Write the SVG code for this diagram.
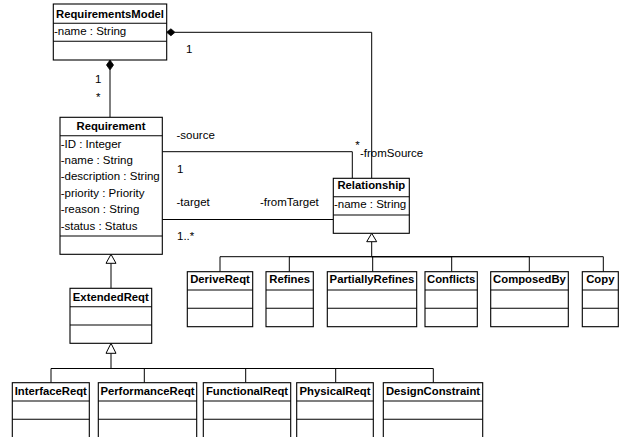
<svg xmlns="http://www.w3.org/2000/svg" width="627" height="437" viewBox="0 0 627 437">
<style>
.box{fill:#fff;stroke:#000;stroke-width:1.1}
.sep{stroke:#000;stroke-width:1.1}
.hd{font-family:"Liberation Sans",Arial,sans-serif;font-weight:bold;font-size:11.3px;text-anchor:middle;fill:#000}
.at{font-family:"Liberation Sans",Arial,sans-serif;font-size:11.5px;fill:#000}
.lb{font-family:"Liberation Sans",Arial,sans-serif;font-size:11.5px;fill:#000}
.ln{fill:none;stroke:#000;stroke-width:1}
.gen{fill:#fff;stroke:#000;stroke-width:1}
.dia{fill:#000;stroke:#000;stroke-width:0.8}
</style>
<rect width="627" height="437" fill="#fff"/>
<g id="connectors">
  <path class="ln" d="M175,32.3 H371.7 V178.3"/>
  <path class="ln" d="M110,70 V117.3"/>
  <path class="ln" d="M162.3,151.7 H352.3 V178.3"/>
  <path class="ln" d="M162.3,219.5 H333.3"/>
  <polygon class="dia" points="166.7,32.3 170.9,28.8 175,32.3 170.9,35.8"/>
  <polygon class="dia" points="110,60 113.5,65 110,70 106.5,65"/>
  <path class="ln" d="M111,263.3 V288.3"/>
  <polygon class="gen" points="111,254.3 116,263.3 106,263.3"/>
  <path class="ln" stroke-width="1.6" d="M371.7,241.7 V256.7"/>
  <path class="ln" d="M371.7,256.7 H220 V271.7"/>
  <path class="ln" d="M371.7,256.7 H289.3 V271.7"/>
  <path class="ln" d="M371.7,256.7 H372.7 V271.7"/>
  <path class="ln" d="M371.7,256.7 H451.7 V271.7"/>
  <path class="ln" d="M371.7,256.7 H529.3 V271.7"/>
  <path class="ln" d="M371.7,256.7 H603.3 V271.7"/>
  <polygon class="gen" points="371.7,233.3 376.7,241.7 366.7,241.7"/>
  <path class="ln" stroke-width="1.6" d="M111,353.3 V368.5"/>
  <path class="ln" d="M111,368.5 H51 V382.7"/>
  <path class="ln" d="M111,368.5 H144.3 V382.7"/>
  <path class="ln" d="M111,368.5 H245.7 V382.7"/>
  <path class="ln" d="M111,368.5 H335.7 V382.7"/>
  <path class="ln" d="M111,368.5 H433.3 V382.7"/>
  <polygon class="gen" points="111,343.3 116,353.3 106,353.3"/>
  <text class="lb" x="186" y="53">1</text>
  <text class="lb" x="95" y="82.5">1</text>
  <text class="lb" x="96" y="101">*</text>
  <text class="lb" x="176.5" y="139">-source</text>
  <text class="lb" x="177" y="173">1</text>
  <text class="lb" x="176.5" y="205.5">-target</text>
  <text class="lb" x="260" y="205.5">-fromTarget</text>
  <text class="lb" x="177" y="240">1..*</text>
  <text class="lb" x="355.3" y="149">*</text>
  <text class="lb" x="360" y="156.7">-fromSource</text>
</g>
<g id="RequirementsModel">
  <rect class="box" x="53.3" y="4" width="113.4" height="56"/>
  <line class="sep" x1="53.3" y1="23.3" x2="166.7" y2="23.3"/>
  <line class="sep" x1="53.3" y1="41.3" x2="166.7" y2="41.3"/>
  <text class="hd" x="110" y="17.5">RequirementsModel</text>
  <text class="at" x="54" y="35">-name : String</text>
</g>
<g id="Requirement">
  <rect class="box" x="60" y="117.3" width="102.3" height="137"/>
  <line class="sep" x1="60" y1="135.7" x2="162.3" y2="135.7"/>
  <line class="sep" x1="60" y1="236" x2="162.3" y2="236"/>
  <text class="hd" x="111" y="130">Requirement</text>
  <text class="at" x="60.7" y="147.5">-ID : Integer</text>
  <text class="at" x="60.7" y="163.9">-name : String</text>
  <text class="at" x="60.7" y="180.3">-description : String</text>
  <text class="at" x="60.7" y="196.7">-priority : Priority</text>
  <text class="at" x="60.7" y="213.1">-reason : String</text>
  <text class="at" x="60.7" y="229.5">-status : Status</text>
</g>
<g id="Relationship">
  <rect class="box" x="333.3" y="178.3" width="76" height="55"/>
  <line class="sep" x1="333.3" y1="196.7" x2="409.3" y2="196.7"/>
  <line class="sep" x1="333.3" y1="215" x2="409.3" y2="215"/>
  <text class="hd" x="371.3" y="189.3">Relationship</text>
  <text class="at" x="334" y="207.5">-name : String</text>
</g>
<g id="ExtendedReqt">
  <rect class="box" x="70" y="288.3" width="81.7" height="55"/>
  <line class="sep" x1="70" y1="306.7" x2="151.7" y2="306.7"/>
  <line class="sep" x1="70" y1="325" x2="151.7" y2="325"/>
  <text class="hd" x="110.8" y="301">ExtendedReqt</text>
</g>
<g id="DeriveReqt">
  <rect class="box" x="187.3" y="271.7" width="65.4" height="55"/>
  <line class="sep" x1="187.3" y1="290" x2="252.7" y2="290"/>
  <line class="sep" x1="187.3" y1="308.3" x2="252.7" y2="308.3"/>
  <text class="hd" x="220" y="283.3">DeriveReqt</text>
</g>
<g id="Refines">
  <rect class="box" x="266" y="271.7" width="47.3" height="55"/>
  <line class="sep" x1="266" y1="290" x2="313.3" y2="290"/>
  <line class="sep" x1="266" y1="308.3" x2="313.3" y2="308.3"/>
  <text class="hd" x="289.7" y="283.3">Refines</text>
</g>
<g id="PartiallyRefines">
  <rect class="box" x="327.3" y="271.7" width="89.4" height="55"/>
  <line class="sep" x1="327.3" y1="290" x2="416.7" y2="290"/>
  <line class="sep" x1="327.3" y1="308.3" x2="416.7" y2="308.3"/>
  <text class="hd" x="372" y="283.3">PartiallyRefines</text>
</g>
<g id="Conflicts">
  <rect class="box" x="425" y="271.7" width="52.3" height="55"/>
  <line class="sep" x1="425" y1="290" x2="477.3" y2="290"/>
  <line class="sep" x1="425" y1="308.3" x2="477.3" y2="308.3"/>
  <text class="hd" x="451.2" y="283.3">Conflicts</text>
</g>
<g id="ComposedBy">
  <rect class="box" x="490.7" y="271.7" width="77.6" height="55"/>
  <line class="sep" x1="490.7" y1="290" x2="568.3" y2="290"/>
  <line class="sep" x1="490.7" y1="308.3" x2="568.3" y2="308.3"/>
  <text class="hd" x="529.5" y="283.3">ComposedBy</text>
</g>
<g id="Copy">
  <rect class="box" x="582.3" y="271.7" width="36" height="55"/>
  <line class="sep" x1="582.3" y1="290" x2="618.3" y2="290"/>
  <line class="sep" x1="582.3" y1="308.3" x2="618.3" y2="308.3"/>
  <text class="hd" x="600.3" y="283.3">Copy</text>
</g>
<g id="InterfaceReqt">
  <rect class="box" x="12.3" y="382.7" width="77" height="60"/>
  <line class="sep" x1="12.3" y1="401" x2="89.3" y2="401"/>
  <line class="sep" x1="12.3" y1="419.3" x2="89.3" y2="419.3"/>
  <text class="hd" x="50.8" y="395">InterfaceReqt</text>
</g>
<g id="PerformanceReqt">
  <rect class="box" x="98.3" y="382.7" width="98.4" height="60"/>
  <line class="sep" x1="98.3" y1="401" x2="196.7" y2="401"/>
  <line class="sep" x1="98.3" y1="419.3" x2="196.7" y2="419.3"/>
  <text class="hd" x="147.5" y="395">PerformanceReqt</text>
</g>
<g id="FunctionalReqt">
  <rect class="box" x="203.3" y="382.7" width="87.4" height="60"/>
  <line class="sep" x1="203.3" y1="401" x2="290.7" y2="401"/>
  <line class="sep" x1="203.3" y1="419.3" x2="290.7" y2="419.3"/>
  <text class="hd" x="247" y="395">FunctionalReqt</text>
</g>
<g id="PhysicalReqt">
  <rect class="box" x="296.7" y="382.7" width="76.6" height="60"/>
  <line class="sep" x1="296.7" y1="401" x2="373.3" y2="401"/>
  <line class="sep" x1="296.7" y1="419.3" x2="373.3" y2="419.3"/>
  <text class="hd" x="335" y="395">PhysicalReqt</text>
</g>
<g id="DesignConstraint">
  <rect class="box" x="383.3" y="382.7" width="99.4" height="60"/>
  <line class="sep" x1="383.3" y1="401" x2="482.7" y2="401"/>
  <line class="sep" x1="383.3" y1="419.3" x2="482.7" y2="419.3"/>
  <text class="hd" x="433" y="395">DesignConstraint</text>
</g>
</svg>
